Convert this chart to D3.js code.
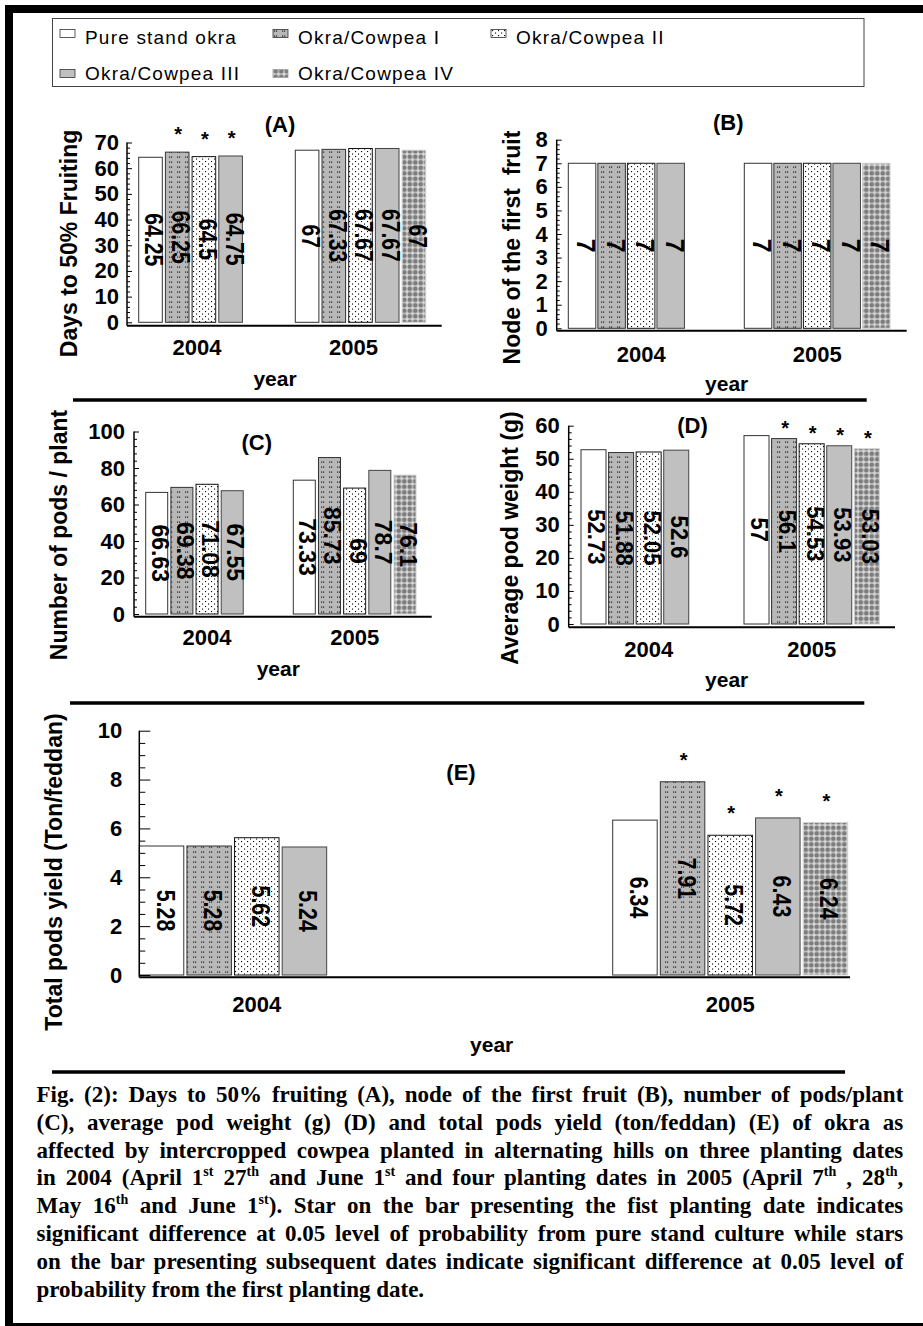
<!DOCTYPE html>
<html>
<head>
<meta charset="utf-8">
<title>Okra / cowpea intercropping</title>
<script src="https://d3js.org/d3.v7.min.js"></script>
<style>
  body { margin: 0; background: #fff; }
  svg { display: block; }
  .sans { font-family: "Liberation Sans", Arial, sans-serif; }
  .tick text { font-family: "Liberation Sans", Arial, sans-serif; font-weight: bold; font-size: 22px; fill: #000; }
  .tick line { stroke: #000; }
  .caption { font-family: "Liberation Serif", "Times New Roman", serif; font-weight: bold; font-size: 23px; }
</style>
</head>
<body>
<svg id="fig" width="923" height="1326"></svg>
<script>
var years = ["2004", "2005"];
var series = ["Pure stand okra", "Okra/Cowpea I", "Okra/Cowpea II", "Okra/Cowpea III", "Okra/Cowpea IV"];

// (A) days to 50% fruiting
var fruiting2004 = [64.25, 66.25, 64.5, 64.75];
var fruiting2005 = [67, 67.33, 67.67, 67.67, 67];
var fruitingStars = [[1, 2, 3], []];

// (B) node of the first fruit
var node2004 = [7, 7, 7, 7];
var node2005 = [7, 7, 7, 7, 7];

// (C) number of pods / plant
var pods2004 = [66.63, 69.38, 71.08, 67.55];
var pods2005 = [73.33, 85.73, 69, 78.7, 76.1];

// (D) average pod weight (g)
var weight2004 = [52.73, 51.88, 52.05, 52.6];
var weight2005 = [57, 56.1, 54.53, 53.93, 53.03];
var weightStars = [[], [1, 2, 3, 4]];

// (E) total pods yield (ton/feddan)
var yield2004 = [5.28, 5.28, 5.62, 5.24];
var yield2005 = [6.34, 7.91, 5.72, 6.43, 6.24];
var yieldStars = [[], [1, 2, 3, 4]];

var captionLines = [
  "Fig. (2): Days to 50% fruiting (A), node of the first fruit (B), number of pods/plant",
  "(C), average pod weight (g) (D) and total pods yield (ton/feddan) (E) of okra as",
  "affected by intercropped cowpea planted in alternating hills on three planting dates",
  "in 2004 (April 1^st 27^th and June 1^st and four planting dates in 2005 (April 7^th , 28^th,",
  "May 16^th and June 1^st). Star on the bar presenting the fist planting date indicates",
  "significant difference at 0.05 level of probability from pure stand culture while stars",
  "on the bar presenting subsequent dates indicate significant difference at 0.05 level of",
  "probability from the first planting date."
];

var svg = d3.select("#fig");
svg.append("rect").attr("width", 923).attr("height", 1326).attr("fill", "#fff");

// fill patterns
var defs = svg.append("defs");

var pI = defs.append("pattern").attr("id", "patI").attr("patternUnits", "userSpaceOnUse")
  .attr("width", 8).attr("height", 5);
pI.append("rect").attr("width", 8).attr("height", 5).attr("fill", "#b8b8b8");
[1, 3].forEach(function(dx) {
  pI.append("rect").attr("x", dx).attr("y", 1.5).attr("width", 1.2).attr("height", 1.2).attr("fill", "#222");
});

var pII = defs.append("pattern").attr("id", "patII").attr("patternUnits", "userSpaceOnUse")
  .attr("width", 6).attr("height", 5);
pII.append("rect").attr("width", 6).attr("height", 5).attr("fill", "#fff");
pII.append("rect").attr("x", 1).attr("y", 1).attr("width", 1.1).attr("height", 1.1).attr("fill", "#000");
pII.append("rect").attr("x", 4).attr("y", 3.5).attr("width", 1.1).attr("height", 1.1).attr("fill", "#000");

var pIV = defs.append("pattern").attr("id", "patIV").attr("patternUnits", "userSpaceOnUse")
  .attr("width", 5.5).attr("height", 5.5);
pIV.append("rect").attr("width", 5.5).attr("height", 5.5).attr("fill", "#d2d2d2");
pIV.append("circle").attr("cx", 2.75).attr("cy", 2.75).attr("r", 2.3).attr("fill", "#7c7c7c");
pIV.append("circle").attr("cx", 0).attr("cy", 0).attr("r", 0.7).attr("fill", "#fff");

var fills = ["#fff", "url(#patI)", "url(#patII)", "#c0c0c0", "url(#patIV)"];
var strokes = ["#333", "#333", "#111", "#444", "#d0d0d0"];

// outer frame
svg.append("rect").attr("x", 9).attr("y", 9).attr("width", 1000).attr("height", 1318)
  .attr("fill", "none").attr("stroke", "#000").attr("stroke-width", 8);

// legend
var legend = svg.append("g").attr("class", "sans");
legend.append("rect").attr("x", 52.5).attr("y", 18.5).attr("width", 811.5).attr("height", 68)
  .attr("fill", "none").attr("stroke", "#444").attr("stroke-width", 1);
var legCols = [60, 273, 491];
var legRows = [44, 79.5];
var legItems = legend.selectAll("g.item").data(series).enter().append("g").attr("class", "item")
  .attr("transform", function(d, i) {
    return "translate(" + legCols[i % 3] + "," + legRows[Math.floor(i / 3)] + ")";
  });
legItems.append("rect")
  .attr("x", 0).attr("y", function(d, i) { return i < 3 ? -14.5 : -10; })
  .attr("width", 15).attr("height", 8)
  .attr("fill", function(d, i) { return fills[i]; })
  .attr("stroke", function(d, i) { return i === 4 ? "#999" : "#333"; })
  .attr("stroke-width", 0.8);
legItems.append("text")
  .attr("x", 25).attr("y", 0)
  .style("font-size", "19px").style("letter-spacing", "1.2px")
  .text(function(d) { return d; });

var panels = [
  { values: [fruiting2004, fruiting2005], stars: fruitingStars, max: 70, major: 10, minor: 2,
    left: 127, right: 441.7, top: 142.5, base: 322.3, axisY: 325.7,
    g0: 138.7, step: 156.6, gw: 130.4, pad: 0.116, tick: 5, minorTick: 3, gap: 8,
    title: "(A)", titleX: 280, titleY: 131.7,
    yTitle: "Days to 50% Fruiting", yTitleX: 77, yTitleY: 243.5,
    yearY: 355, yearDx: -7, axisTitleX: 275, axisTitleY: 386,
    lSize: 25.5, lScale: 0.83, starOff: 22 },
  { values: [node2004, node2005], stars: [[], []], max: 8, major: 1, minor: 0.2,
    left: 556.7, right: 906.7, top: 139.7, base: 328.3, axisY: 330.7,
    g0: 568.3, step: 176, gw: 145.7, pad: 0.069, tick: 5, minorTick: 3, gap: 9,
    title: "(B)", titleX: 728.3, titleY: 130,
    yTitle: "Node of the first  fruit", yTitleX: 520, yTitleY: 247.5,
    yearY: 361.7, yearDx: 0, axisTitleX: 726.7, axisTitleY: 391,
    lSize: 25, lScale: 1, starOff: 20 },
  { values: [pods2004, pods2005], stars: [[], []], max: 100, major: 20, minor: 4,
    left: 134, right: 431.7, top: 431.5, base: 614, axisY: 616.7,
    g0: 145.7, step: 147.6, gw: 122.7, pad: 0.126, tick: 5, minorTick: 3, gap: 9,
    title: "(C)", titleX: 256.7, titleY: 450,
    yTitle: "Number of pods / plant", yTitleX: 67, yTitleY: 535,
    yearY: 645, yearDx: 0, axisTitleX: 278.3, axisTitleY: 676,
    lSize: 23, lScale: 1, starOff: 20 },
  { values: [weight2004, weight2005], stars: weightStars, max: 60, major: 10, minor: 2,
    left: 568.7, right: 895, top: 425.7, base: 624, axisY: 627.3,
    g0: 581, step: 163, gw: 135.3, pad: 0.093, tick: 5, minorTick: 3, gap: 9,
    title: "(D)", titleX: 692.5, titleY: 433.3,
    yTitle: "Average pod weight (g)", yTitleX: 518, yTitleY: 538,
    yearY: 656.7, yearDx: 0, axisTitleX: 726.7, axisTitleY: 686.7,
    lSize: 23, lScale: 0.96, starOff: 15 },
  { values: [yield2004, yield2005], stars: yieldStars, max: 10, major: 2, minor: 0.5,
    left: 139.3, right: 850, top: 730.7, base: 975, axisY: 977.3,
    g0: 139.3, step: 473.4, gw: 235, pad: 0.066, tick: 11, minorTick: 6, gap: 17,
    title: "(E)", titleX: 461, titleY: 780,
    yTitle: "Total pods yield (Ton/feddan)", yTitleX: 62, yTitleY: 872,
    yearY: 1011.7, yearDx: 0, axisTitleX: 491.7, axisTitleY: 1051.7,
    lSize: 25.5, lScale: 0.84, starOff: 26 }
];

function drawPanel(p) {
  var g = svg.append("g").attr("class", "sans");

  var x = d3.scaleBand().domain(years)
    .range([p.g0, p.g0 + p.step + p.gw])
    .paddingInner(1 - p.gw / p.step);
  var xs = d3.scaleBand().domain(series)
    .range([0, x.bandwidth()])
    .paddingInner(p.pad);
  var y = d3.scaleLinear().domain([0, p.max]).range([p.base, p.top]);

  var rows = [];
  years.forEach(function(yr, yi) {
    p.values[yi].forEach(function(v, si) {
      rows.push({ year: yr, s: series[si], si: si, v: v, star: p.stars[yi].indexOf(si) >= 0 });
    });
  });

  function cx(d) { return x(d.year) + xs(d.s) + xs.bandwidth() / 2; }

  // bars
  g.selectAll("rect.bar").data(rows).enter().append("rect")
    .attr("class", "bar")
    .attr("x", function(d) { return x(d.year) + xs(d.s); })
    .attr("y", function(d) { return y(d.v); })
    .attr("width", xs.bandwidth())
    .attr("height", function(d) { return y(0) - y(d.v); })
    .attr("fill", function(d) { return fills[d.si]; })
    .attr("stroke", function(d) { return strokes[d.si]; })
    .attr("stroke-width", 1);

  // value labels, rotated
  g.selectAll("text.val").data(rows).enter().append("text")
    .attr("class", "val")
    .attr("transform", function(d) {
      return "translate(" + cx(d) + "," + (y(d.v) + y(0)) / 2 + ") rotate(90) scale(" + p.lScale + ",1)";
    })
    .attr("y", 5)
    .attr("text-anchor", "middle")
    .style("font-size", p.lSize + "px")
    .style("font-weight", "bold")
    .text(function(d) { return String(d.v); });

  // significance stars
  g.selectAll("text.star").data(rows.filter(function(d) { return d.star; })).enter().append("text")
    .attr("class", "star")
    .attr("x", function(d) { return cx(d) + 1; })
    .attr("y", function(d) { return y(d.v) - p.starOff + 11; })
    .attr("text-anchor", "middle")
    .style("font-size", "20px")
    .style("font-weight", "bold")
    .text("*");

  // y axis: major + minor ticks pointing inward
  var majors = d3.range(0, p.max + p.major / 2, p.major);
  var minors = d3.range(0, p.max + p.minor / 2, p.minor).filter(function(v) {
    return Math.abs(v / p.major - Math.round(v / p.major)) > 1e-6;
  });
  var yAxis = d3.axisLeft(y).tickValues(majors).tickSizeInner(-p.tick).tickSizeOuter(0)
    .tickPadding(p.gap).tickFormat(d3.format("d"));
  var yMinor = d3.axisLeft(y).tickValues(minors).tickSizeInner(-p.minorTick).tickSizeOuter(0)
    .tickFormat("");
  var ag = g.append("g").attr("transform", "translate(" + p.left + ",0)").call(yAxis);
  ag.select(".domain").remove();
  var mg = g.append("g").attr("transform", "translate(" + p.left + ",0)").call(yMinor);
  mg.select(".domain").remove();

  g.append("line").attr("x1", p.left).attr("x2", p.left).attr("y1", p.axisY).attr("y2", p.top)
    .attr("stroke", "#000").attr("stroke-width", 1.5);
  g.append("line").attr("x1", p.left).attr("x2", p.right).attr("y1", p.axisY).attr("y2", p.axisY)
    .attr("stroke", "#000").attr("stroke-width", 2);

  // year labels
  g.selectAll("text.year").data(years).enter().append("text")
    .attr("class", "year")
    .attr("x", function(d) { return x(d) + x.bandwidth() / 2 + p.yearDx; })
    .attr("y", p.yearY)
    .attr("text-anchor", "middle")
    .style("font-size", "22px").style("font-weight", "bold")
    .text(function(d) { return d; });

  g.append("text").attr("x", p.axisTitleX).attr("y", p.axisTitleY)
    .attr("text-anchor", "middle")
    .style("font-size", "21px").style("font-weight", "bold")
    .text("year");

  g.append("text").attr("x", p.titleX).attr("y", p.titleY)
    .attr("text-anchor", "middle")
    .style("font-size", "22px").style("font-weight", "bold")
    .text(p.title);

  g.append("text")
    .attr("transform", "translate(" + p.yTitleX + "," + p.yTitleY + ") rotate(-90)")
    .attr("text-anchor", "middle")
    .style("font-size", "23px").style("font-weight", "bold")
    .style("white-space", "pre")
    .text(p.yTitle);
}

panels.forEach(drawPanel);

// separator rules
[[73, 866.7, 400], [70, 864.3, 703], [52, 845, 1072]].forEach(function(r) {
  svg.append("line").attr("x1", r[0]).attr("x2", r[1]).attr("y1", r[2]).attr("y2", r[2])
    .attr("stroke", "#000").attr("stroke-width", 3.5);
});

// caption, justified between two margins
var capLeft = 36.5, capRight = 903.3, capTop = 1102, capLead = 27.8;
captionLines.forEach(function(line, i) {
  var t = svg.append("text").attr("class", "caption")
    .attr("x", capLeft).attr("y", capTop + i * capLead)
    .style("white-space", "pre");
  var parts = line.split(/\^(st|th)/);
  parts.forEach(function(part, k) {
    if (k % 2 === 1) {
      t.append("tspan").attr("dy", -9).style("font-size", "14px").text(part);
    } else if (part.length) {
      t.append("tspan").attr("dy", k > 0 ? 9 : 0).text(part);
    }
  });
  if (i < captionLines.length - 1) {
    var natural = t.node().getComputedTextLength();
    var spaces = (line.match(/ /g) || []).length;
    var ws = (capRight - capLeft - natural) / spaces;
    t.style("word-spacing", ws + "px");
  }
});
</script>
</body>
</html>
